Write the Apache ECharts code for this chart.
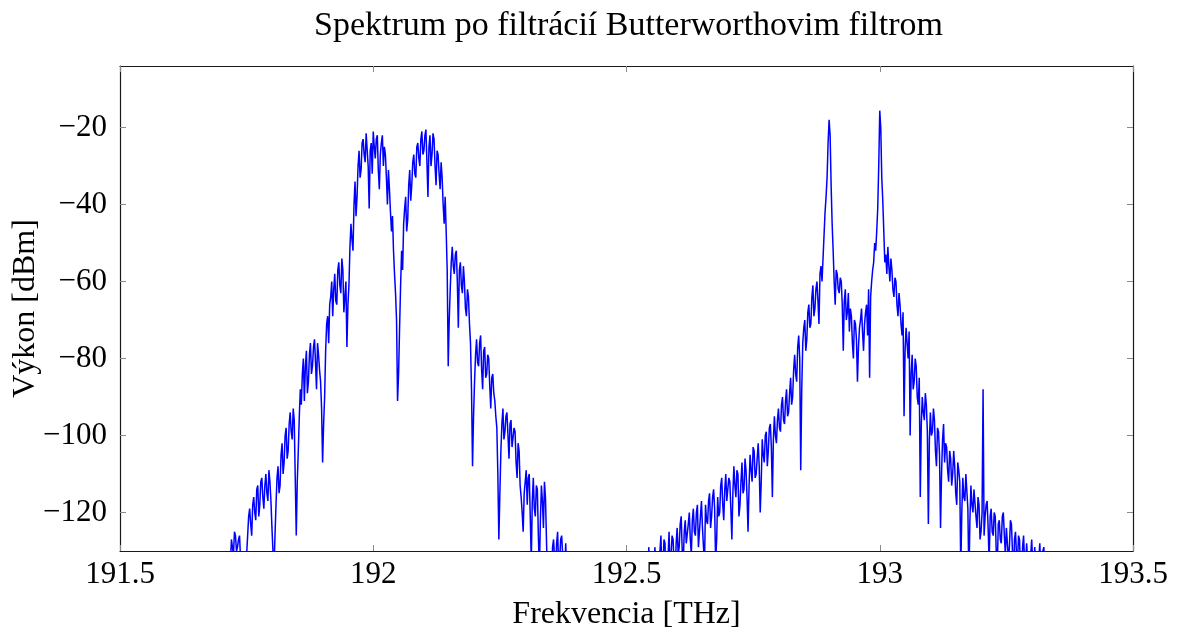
<!DOCTYPE html>
<html>
<head>
<meta charset="utf-8">
<script src="https://cdn.jsdelivr.net/npm/echarts@6/dist/echarts.min.js"></script>
<style>
html,body{margin:0;padding:0;background:#fff;}
#chart{width:1183px;height:634px;}
</style>
</head>
<body>
<div id="chart"></div>
<script>
// Sampling grid of the measured spectrum (THz)
const stepTHz = 0.002;
const band1StartTHz = 191.716;
const band2StartTHz = 192.540;

// Power [dBm] of the left band (two channels at 192.0 and 192.1 THz)
const band1Power = [
 -140,-133,-127,-129,-131,-125,-126,-130,-129,-127,-126,-132,-135,-139,-140,-142,-136,-131,-126,-121,
 -119,-123,-126,-118,-116,-120,-122,-114,-113,-121,-118,-112,-111,-116,-119,-113,-110,-115,-117,-109,
 -112,-117,-124,-130,-135,-126,-118,-111,-108,-115,-113,-105,-102,-110,-107,-100,-98,-106,-104,-97,
 -94,-99,-101,-93,-96,-111,-126,-112,-104,-95,-88,-92,-84,-80,-91,-82,-78,-89,-86,-79,
 -76,-84,-82,-77,-75,-81,-88,-76,-79,-83,-86,-93,-107,-97,-90,-78,-71,-69,-76,-66,
 -64,-60,-69,-62,-58,-65,-66,-57,-55,-61,-63,-54,-57,-68,-64,-60,-77,-66,-61,-51,
 -45,-49,-52,-40,-34,-43,-38,-30,-26,-33,-31,-24,-23,-27,-29,-21.5,-22,-30,-41,-26,
 -24,-32,-21,-25,-28,-23,-22,-31,-36,-27,-24,-22,-30,-25,-27,-33,-40,-31,-36,-42,
 -47,-43,-52,-58,-63,-70,-91,-84,-72,-61,-52,-57,-45,-41,-38,-47,-44,-35,-31,-39,
 -35,-29,-27,-32,-33,-25,-24,-28,-30,-23,-21,-27,-26,-22,-20.5,-29,-38,-25,-22,-30,
 -27,-21.5,-23,-30,-35,-26,-27,-32,-36,-29,-33,-40,-45,-38,-47,-57,-82,-70,-62,-55,
 -51,-56,-58,-53,-52,-60,-72,-57,-55,-61,-63,-56,-60,-67,-69,-62,-64,-71,-76,-88,
 -108,-95,-86,-79,-75,-81,-82,-76,-74,-83,-88,-78,-77,-85,-84,-79,-80,-87,-93,-85,
 -84,-89,-91,-95,-98,-110,-127,-115,-104,-97,-93,-101,-99,-95,-94,-100,-106,-97,-96,-103,
 -103,-98,-99,-107,-111,-102,-104,-113,-116,-120,-125,-115,-112,-109,-118,-111,-110,-121,-133,-117,
 -111,-119,-121,-113,-114,-126,-135,-122,-113,-117,-124,-112,-116,-127,-138,-131,-133,-137,-140,-129,
 -127,-132,-136,-128,-125,-134,-133,-127,-126,-131,-138,-135,-128,-137,-142,-150,-145
];

// Power [dBm] of the right band (two carriers at 192.9 and 193.0 THz)
const band2Power = [
 -145,-138,-129,-135,-140,-131,-136,-141,-129,-133,-138,-144,-142,-130,-126,-137,-134,-127,-128,-139,
 -139,-132,-125,-136,-131,-126,-127,-134,-137,-128,-124,-131,-129,-123,-121,-130,-133,-125,-122,-128,
 -128,-123,-120,-127,-131,-122,-119,-125,-126,-120,-118,-129,-125,-121,-117,-124,-129,-133,-118,-122,
 -123,-117,-115,-124,-121,-116,-114,-119,-133,-127,-116,-121,-120,-113,-111,-118,-122,-114,-110,-117,
 -117,-111,-112,-119,-127,-115,-108,-113,-116,-109,-110,-121,-118,-112,-107,-115,-114,-106,-109,-116,
 -125,-113,-105,-109,-112,-103,-104,-111,-110,-106,-102,-108,-120,-112,-101,-105,-107,-100,-99,-108,
 -104,-98,-97,-103,-116,-101,-95,-100,-102,-96,-93,-98,-99,-92,-90,-96,-97,-91,-88,-95,
 -94,-89,-85,-92,-90,-83,-79,-84,-86,-77,-74,-80,-109,-88,-76,-72,-70,-78,-75,-68,
 -66,-72,-71,-64,-61,-69,-67,-62,-60,-65,-71,-58,-56,-60,-54,-48,-42,-38,-33,-24,
 -18,-22,-35,-45,-52,-60,-66,-57,-58,-62,-63,-59,-60,-66,-78,-65,-62,-70,-68,-63,
 -73,-67,-69,-76,-80,-70,-71,-75,-86,-77,-72,-70,-67,-73,-78,-71,-68,-66,-74,-62,
 -85,-64,-60,-57,-55,-50,-52,-47,-41,-30,-15.6,-20,-33,-39,-47,-55,-53,-58,-51,-56,
 -60,-54,-57,-62,-64,-59,-60,-66,-69,-63,-66,-71,-74,-68,-95,-78,-72,-76,-80,-73,
 -100,-84,-79,-88,-86,-80,-82,-90,-92,-85,-116,-97,-90,-94,-96,-89,-92,-99,-123,-101,
 -94,-100,-99,-93,-96,-104,-108,-98,-99,-105,-124,-110,-101,-97,-107,-102,-103,-109,-112,-104,
 -106,-113,-110,-104,-108,-115,-118,-107,-109,-112,-135,-120,-111,-116,-117,-110,-110,-119,-138,-122,
 -113,-118,-120,-114,-114,-121,-124,-116,-118,-127,-125,-120,-88,-126,-121,-118,-117,-124,-133,-121,
 -119,-125,-126,-120,-121,-130,-135,-123,-122,-127,-128,-121,-120,-126,-131,-124,-124,-132,-129,-122,
 -123,-130,-138,-127,-125,-131,-133,-126,-127,-136,-140,-129,-126,-133,-134,-128,-128,-137,-141,-131,
 -127,-133,-136,-129,-129,-138,-143,-132,-128,-135,-137,-130,-129,-136,-140,-146,-150
];

const xTicks = [191.5, 192, 192.5, 193, 193.5];
const yTicks = [-120, -100, -80, -60, -40, -20];
const xRange = [191.5, 193.5];
const yRange = [-130, -4];

function toPairs(start, arr) {
  return arr.map((v, i) => [+(start + i * stepTHz).toFixed(4), v]);
}
const seriesData = toPairs(band1StartTHz, band1Power)
  .concat([[192.46, null]])
  .concat(toPairs(band2StartTHz, band2Power));

const FONT = '"Liberation Serif", "DejaVu Serif", serif';
const frame = { show: true, onZero: false, lineStyle: { color: '#1a1a1a', width: 1.2 } };
const tick = { show: true, inside: true, length: 6, lineStyle: { color: '#8a8a8a', width: 1 } };
const minus = v => String(v).replace('-', '\u2212');

const chart = echarts.init(document.getElementById('chart'), null, { renderer: 'canvas' });
chart.setOption({
  animation: false,
  backgroundColor: '#ffffff',
  title: {
    text: 'Spektrum po filtrácií Butterworthovim filtrom',
    left: 309,
    top: 4,
    textStyle: { fontFamily: FONT, fontWeight: 'normal', fontSize: 34, color: '#000' }
  },
  grid: { left: 120, right: 50, top: 66, bottom: 83, outerBoundsMode: 'none', containLabel: false },
  xAxis: [{
    type: 'value', position: 'bottom', min: xRange[0], max: xRange[1],
    name: 'Frekvencia [THz]', nameLocation: 'middle', nameGap: 48, nameMoveOverlap: false,
    nameTextStyle: { fontFamily: FONT, fontSize: 32, color: '#000' },
    axisLine: frame,
    axisTick: Object.assign({}, tick, { customValues: xTicks }),
    axisLabel: { customValues: xTicks, margin: 8, fontFamily: FONT, fontSize: 31, color: '#000',
                 formatter: v => minus(v) },
    splitLine: { show: false }
  }, {
    type: 'value', position: 'top', min: xRange[0], max: xRange[1],
    axisLine: frame,
    axisTick: Object.assign({}, tick, { customValues: xTicks }),
    axisLabel: { show: false },
    splitLine: { show: false }
  }],
  yAxis: [{
    type: 'value', position: 'left', min: yRange[0], max: yRange[1],
    name: 'Výkon [dBm]', nameLocation: 'middle', nameGap: 78, nameRotate: 90, nameMoveOverlap: false,
    nameTextStyle: { fontFamily: FONT, fontSize: 32, color: '#000' },
    axisLine: frame,
    axisTick: Object.assign({}, tick, { customValues: yTicks }),
    axisLabel: { customValues: yTicks, margin: 13, fontFamily: FONT, fontSize: 31, color: '#000',
                 formatter: v => minus(v) },
    splitLine: { show: false }
  }, {
    type: 'value', position: 'right', min: yRange[0], max: yRange[1],
    axisLine: frame,
    axisTick: Object.assign({}, tick, { customValues: yTicks }),
    axisLabel: { show: false },
    splitLine: { show: false }
  }],
  series: [{
    type: 'line',
    data: seriesData,
    xAxisIndex: 0, yAxisIndex: 0,
    showSymbol: false,
    symbol: 'none',
    clip: true,
    connectNulls: false,
    lineStyle: { color: '#0000ff', width: 1.5 },
    itemStyle: { color: '#0000ff' }
  }]
});
</script>
</body>
</html>
